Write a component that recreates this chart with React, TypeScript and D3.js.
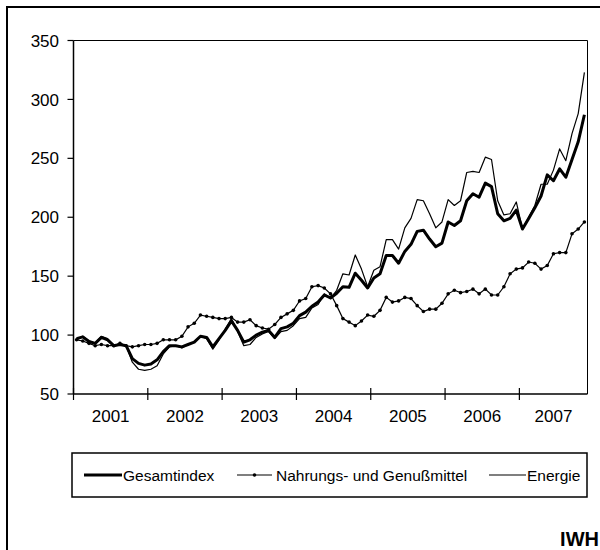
import * as d3 from "d3";

// monthly index values, Jan 2001 .. Nov 2007
const months = d3.timeMonths(new Date(2001, 0, 1), new Date(2007, 11, 1));
const years = ["2001", "2002", "2003", "2004", "2005", "2006", "2007"];
const yTicks = [50, 100, 150, 200, 250, 300, 350];

const gesamtindex = [97, 98.5, 94.5, 93, 98, 96, 91, 92, 91, 80, 76, 74.5,
  75.5, 79, 86, 91, 91, 90, 92, 94, 99, 98, 90, 97,
  104, 112, 104, 94, 96, 100, 102.5, 104, 98, 105.5, 107, 110,
  116.5, 119.5, 124.5, 128, 134, 131.5, 135.5, 141, 140.5, 152.5, 146.5, 140,
  148.5, 152, 167.5, 167.5, 161, 171, 177, 188, 189, 181.5, 175, 178,
  196, 193, 197, 214, 220, 217, 229, 226, 203, 197, 199, 206,
  190, 199, 208, 218, 236, 231, 241, 234, 249, 264, 287];

const nahrung = [96, 95, 93, 91, 92, 91, 91, 93, 91, 90, 91, 92,
  92, 93, 96, 96, 96, 99, 107, 110, 117, 116, 115, 114,
  114, 115, 111, 111, 113, 108, 106, 105, 109, 115, 118, 121,
  129, 131, 141, 142, 140, 135, 125, 114, 111, 108, 112, 117,
  116, 121, 132, 128, 129, 132, 131, 125, 120, 122, 122, 127,
  135, 138, 136, 137, 139, 135, 139, 134, 134, 141, 152, 156,
  157, 162, 161, 156, 159, 169, 170, 170, 186, 190, 196];

const energie = [96, 99, 95, 93, 99, 97, 91, 93, 91, 77, 71, 70,
  71, 74, 84, 90, 91, 89, 92, 94, 99, 97, 88, 96,
  105, 114, 103, 91, 92, 98, 101, 103, 97, 103, 104, 108,
  114, 115, 123, 126, 135, 131, 138, 152, 151, 168, 156, 141,
  155, 158, 181, 181, 173, 191, 199, 215, 214, 203, 191, 196,
  215, 210, 214, 238, 239, 238, 251, 249, 214, 202, 203, 213,
  190, 200, 210, 228, 228, 240, 258, 248, 271, 288, 323];

const FONT = "'Liberation Sans', Arial, sans-serif";

export default function App() {
  const left = 73.5, right = 587.5, top = 40.5, bottom = 394;

  const x = d3.scaleBand<number>()
    .domain(months.map((_, i) => i))
    .range([left, right]);
  const y = d3.scaleLinear().domain([50, 350]).range([bottom, top]);

  const cx = (i: number) => (x(i) as number) + x.bandwidth() / 2;
  const line = d3.line<number>().x((_, i) => cx(i)).y((v) => y(v));

  // year boundaries (January of each year)
  const yearStarts = years.map((_, k) => k * 12);
  const yearEnd = (k: number) =>
    k + 1 < years.length ? (x(yearStarts[k + 1]) as number) : right;

  return (
    <svg width={600} height={550} style={{ position: "absolute", left: 0, top: 0, background: "#fff" }}>
      {/* outer frame */}
      <rect x={7} y={7} width={620} height={580} fill="none" stroke="#000" strokeWidth={2} />

      {/* plot box top/right */}
      <line x1={left} x2={right} y1={top} y2={top} stroke="#000" strokeWidth={1} />
      <line x1={right} x2={right} y1={top} y2={bottom} stroke="#000" strokeWidth={1} />

      {/* y axis */}
      <line x1={left} x2={left} y1={top} y2={bottom} stroke="#000" strokeWidth={1.5} />
      {yTicks.map((t) => (
        <g key={t}>
          <line x1={left - 6} x2={left} y1={y(t)} y2={y(t)} stroke="#000" strokeWidth={1.2} />
          <text x={59} y={y(t)} dy="0.36em" textAnchor="end" fontFamily={FONT} fontSize={17}>{t}</text>
        </g>
      ))}

      {/* x axis */}
      <line x1={left} x2={right} y1={bottom} y2={bottom} stroke="#000" strokeWidth={1.5} />
      {yearStarts.map((s, k) => (
        <g key={years[k]}>
          <line x1={x(s) as number} x2={x(s) as number} y1={bottom - 6} y2={bottom + 6} stroke="#000" strokeWidth={1.2} />
          <text x={((x(s) as number) + yearEnd(k)) / 2} y={422} textAnchor="middle" fontFamily={FONT} fontSize={17}>{years[k]}</text>
        </g>
      ))}

      {/* series */}
      <path d={line(gesamtindex) ?? ""} fill="none" stroke="#000" strokeWidth={3} strokeLinejoin="round" />
      <path d={line(energie) ?? ""} fill="none" stroke="#000" strokeWidth={1.2} strokeLinejoin="round" />
      <path d={line(nahrung) ?? ""} fill="none" stroke="#000" strokeWidth={1.2} />
      {nahrung.map((v, i) => (
        <circle key={i} cx={cx(i)} cy={y(v)} r={1.8} fill="#000" />
      ))}

      {/* legend */}
      <rect x={72} y={453} width={515} height={44} fill="none" stroke="#000" strokeWidth={1.5} />
      <line x1={84} x2={122} y1={475} y2={475} stroke="#000" strokeWidth={3} />
      <text x={123} y={480.5} fontFamily={FONT} fontSize={15.5}>Gesamtindex</text>
      <line x1={237} x2={272} y1={475} y2={475} stroke="#000" strokeWidth={1.2} />
      <circle cx={254.5} cy={475} r={1.8} fill="#000" />
      <text x={276} y={480.5} fontFamily={FONT} fontSize={15.5}>Nahrungs- und Genußmittel</text>
      <line x1={489} x2={526} y1={475} y2={475} stroke="#000" strokeWidth={1.2} />
      <text x={527} y={480.5} fontFamily={FONT} fontSize={15.5}>Energie</text>

      <text x={599} y={546} textAnchor="end" fontFamily={FONT} fontSize={20} fontWeight="bold">IWH</text>
    </svg>
  );
}
